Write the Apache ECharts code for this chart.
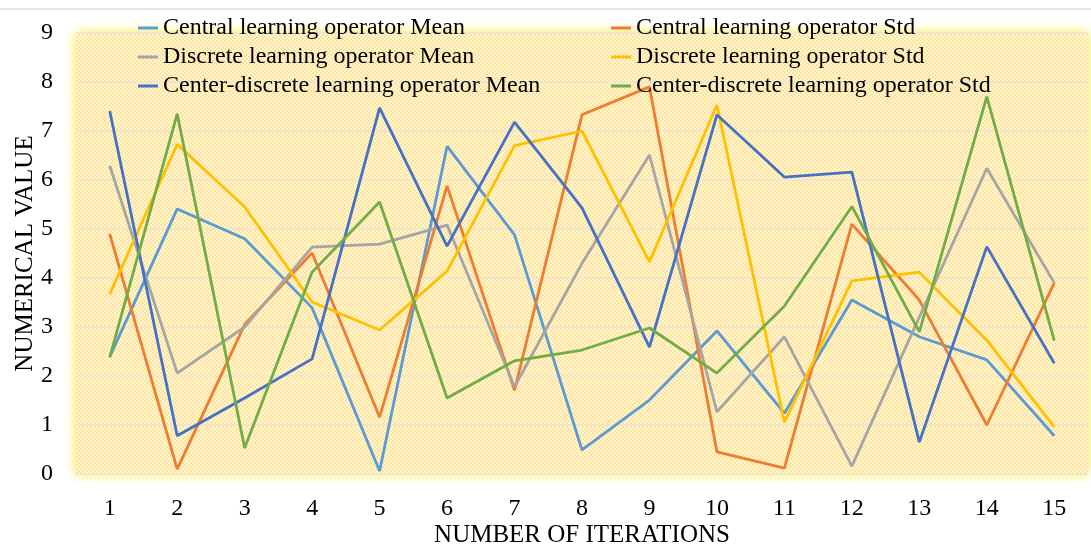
<!DOCTYPE html>
<html>
<head>
<meta charset="utf-8">
<script src="https://cdn.jsdelivr.net/npm/echarts@6/dist/echarts.min.js"></script>
<style>
  html, body { margin: 0; padding: 0; background: #fff; }
  #chart { width: 1091px; height: 547px; }
</style>
</head>
<body>
<div id="chart"></div>
<script>
// iterations on the x axis
const iterations = ['1', '2', '3', '4', '5', '6', '7', '8', '9', '10', '11', '12', '13', '14', '15'];

// values
const centralMean  = [2.39, 5.41, 4.80, 3.39, 0.06, 6.69, 4.88, 0.49, 1.51, 2.92, 1.24, 3.55, 2.80, 2.33, 0.78];
const centralStd   = [4.90, 0.10, 3.05, 4.51, 1.16, 5.88, 1.71, 7.33, 7.90, 0.45, 0.12, 5.10, 3.55, 1.00, 3.90];
const discreteMean = [6.29, 2.06, 3.00, 4.63, 4.69, 5.08, 1.78, 4.30, 6.51, 1.27, 2.80, 0.16, 3.20, 6.24, 3.90];
const discreteStd  = [3.67, 6.73, 5.45, 3.51, 2.94, 4.14, 6.70, 7.00, 4.33, 7.53, 1.06, 3.94, 4.12, 2.73, 0.96];
const cdMean       = [7.41, 0.78, 1.55, 2.35, 7.47, 4.65, 7.18, 5.43, 2.59, 7.33, 6.06, 6.16, 0.65, 4.64, 2.26];
const cdStd        = [2.38, 7.35, 0.53, 4.12, 5.55, 1.55, 2.31, 2.53, 2.98, 2.06, 3.43, 5.46, 2.90, 7.70, 2.72];

const seriesNames = [
  'Central learning operator Mean',
  'Central learning operator Std',
  'Discrete learning operator Mean',
  'Discrete learning operator Std',
  'Center-discrete learning operator Mean',
  'Center-discrete learning operator Std'
];
const seriesData = [centralMean, centralStd, discreteMean, discreteStd, cdMean, cdStd];
const colors = ['#5B9BD5', '#ED7D31', '#A5A5A5', '#FFC000', '#4472C4', '#70AD47'];

// checkered yellow fill of the plot area
const tile = document.createElement('canvas');
tile.width = 4;
tile.height = 4;
const tctx = tile.getContext('2d');
tctx.fillStyle = '#FFF5D8';
tctx.fillRect(0, 0, 4, 4);
tctx.fillStyle = '#FFE397';
tctx.fillRect(0, 0, 2, 2);
tctx.fillRect(2, 2, 2, 2);

const font = 'Liberation Serif';

const chart = echarts.init(document.getElementById('chart'));

const legendBase = {
  orient: 'vertical',
  top: 11,
  icon: 'rect',
  itemWidth: 20,
  itemHeight: 3,
  itemGap: 5,
  textStyle: { fontFamily: font, fontSize: 24, color: '#000', lineHeight: 24 }
};

chart.setOption({
  backgroundColor: '#fff',
  color: colors,
  animation: false,
  graphic: [{
    type: 'rect',
    shape: { x: 0, y: 8, width: 1091, height: 2 },
    style: { fill: '#E6E6E6' },
    silent: true
  }],
  legend: [
    Object.assign({}, legendBase, { left: 133, data: [seriesNames[0], seriesNames[2], seriesNames[4]] }),
    Object.assign({}, legendBase, { left: 606, data: [seriesNames[1], seriesNames[3], seriesNames[5]] })
  ],
  grid: {
    left: 76,
    right: 3,
    top: 33,
    bottom: 73,
    outerBoundsMode: 'none',
    show: true,
    borderWidth: 0,
    backgroundColor: { image: tile, repeat: 'repeat' },
    shadowColor: 'rgba(240, 232, 40, 1)',
    shadowBlur: 12
  },
  xAxis: {
    type: 'category',
    data: iterations,
    boundaryGap: true,
    axisLine: { show: false },
    axisTick: { show: false },
    axisLabel: { fontFamily: font, fontSize: 24, color: '#000', margin: 23 },
    name: 'NUMBER OF ITERATIONS',
    nameLocation: 'middle',
    nameMoveOverlap: false,
    nameGap: 49,
    nameTextStyle: { fontFamily: font, fontSize: 25, color: '#000' }
  },
  yAxis: {
    type: 'value',
    min: 0,
    max: 9,
    interval: 1,
    axisLine: { show: false },
    axisTick: { show: false },
    axisLabel: { fontFamily: font, fontSize: 24, color: '#000', margin: 23 },
    splitLine: { lineStyle: { color: '#EDE5D3', width: 1.5 } },
    name: 'NUMERICAL VALUE',
    nameLocation: 'middle',
    nameMoveOverlap: false,
    nameGap: 38,
    nameTextStyle: { fontFamily: font, fontSize: 25, color: '#000' }
  },
  series: seriesNames.map((name, i) => ({
    name: name,
    type: 'line',
    data: seriesData[i],
    showSymbol: false,
    lineStyle: { width: 2.8, color: colors[i] },
    itemStyle: { color: colors[i] }
  }))
});
</script>
</body>
</html>
